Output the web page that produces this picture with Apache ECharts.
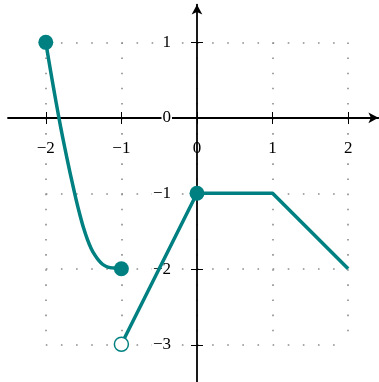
<!DOCTYPE html>
<html><head><meta charset="utf-8">
<script src="https://cdn.jsdelivr.net/npm/echarts@6/dist/echarts.min.js"></script>
<style>html,body{margin:0;padding:0;background:#fff}#c{width:379px;height:382px}</style>
</head><body><div id="c"></div>
<script>
// Data
const curveX = [-2, -1.95, -1.9, -1.85, -1.8, -1.75, -1.7, -1.65, -1.6, -1.55, -1.5,
                -1.45, -1.4, -1.35, -1.3, -1.25, -1.2, -1.15, -1.1, -1.05, -1];
const curveY = [1, 0.70, 0.41, 0.13, -0.14, -0.39, -0.63, -0.86, -1.08, -1.28, -1.46,
                -1.61, -1.73, -1.82, -1.89, -1.94, -1.97, -1.985, -1.99, -2, -2];
const segX = [-1, 0, 1, 2];
const segY = [-3, -1, -1, -2];
const closedX = [-2, -1, 0];
const closedY = [1, -2, -1];
const openX = [-1];
const openY = [-3];
const xTicks = [-2, -1, 0, 1, 2];
const yTicks = [-3, -2, -1, 0, 1];

const zip = (a, b) => a.map((v, i) => [v, b[i]]);
const TEAL = '#008080';
const FONT = 'Liberation Serif';
const fmt = v => v < 0 ? '\u2212' + (-v) : String(v);

const U = 75.6;           // pixels per unit
const X0 = 197, Y0 = 118; // origin in pixels
const xMin = xTicks[0], xMax = xTicks[xTicks.length - 1];
const yMin = yTicks[0], yMax = yTicks[yTicks.length - 1];

const box = { left: X0 + xMin * U, top: Y0 - yMax * U, width: (xMax - xMin) * U, height: (yMax - yMin) * U };
const xStrip = { left: box.left, top: box.top, width: box.width, height: Y0 - box.top };
const yStrip = { left: X0, top: box.top, width: box.left + box.width - X0, height: box.height };

const dotStyle = { color: '#8c8c8c', width: 1.6, type: [1.6, U * 0.2 - 1.6], cap: 'butt' };
const hidden = g => ({ gridIndex: g, type: 'value', show: false, min: 0, max: 1 });
const tickStyle = { color: '#000', width: 1 };
const labelStyle = (margin) => ({ show: true, margin, formatter: fmt, fontFamily: FONT, fontSize: 17, color: '#000',
  backgroundColor: '#fff', padding: [0, 1], showMinLabel: true, showMaxLabel: true });

const chart = echarts.init(document.getElementById('c'), null, { renderer: 'canvas' });
chart.setOption({
  animation: false,
  backgroundColor: '#fff',
  grid: [
    { left: 8, top: 4.6, width: 370.4, height: 378 },
    Object.assign({}, box),
    Object.assign({}, xStrip),
    Object.assign({}, xStrip),
    Object.assign({}, yStrip),
    Object.assign({}, yStrip)
  ],
  xAxis: [
    { gridIndex: 0, type: 'value', min: -2.5, max: 2.4, z: 1,
      axisLine: { show: true, onZero: true, symbol: ['none', 'arrow'], symbolSize: [8, 10],
        lineStyle: { color: '#000', width: 1.8 } },
      axisTick: { show: false }, axisLabel: { show: false }, splitLine: { show: false } },
    { gridIndex: 1, type: 'value', min: xMin, max: xMax, interval: 1, z: 0,
      axisLine: { show: false }, axisTick: { show: false }, axisLabel: { show: false },
      splitLine: { show: true, lineStyle: dotStyle } },
    { gridIndex: 2, type: 'value', position: 'bottom', min: xMin, max: xMax, interval: 1, z: 2,
      axisLine: { show: false, onZero: false },
      axisTick: { show: true, inside: false, length: 6, lineStyle: tickStyle },
      axisLabel: labelStyle(22), splitLine: { show: false } },
    { gridIndex: 3, type: 'value', position: 'bottom', min: xMin, max: xMax, interval: 1, z: 2,
      axisLine: { show: false, onZero: false },
      axisTick: { show: true, inside: true, length: 6, lineStyle: tickStyle },
      axisLabel: { show: false }, splitLine: { show: false } },
    hidden(4),
    hidden(5)
  ],
  yAxis: [
    { gridIndex: 0, type: 'value', min: -3.5, max: 1.5, z: 5,
      axisLine: { show: true, onZero: true, symbol: ['none', 'arrow'], symbolSize: [8, 10],
        lineStyle: { color: '#000', width: 1.8 } },
      axisTick: { show: false }, axisLabel: { show: false }, splitLine: { show: false } },
    { gridIndex: 1, type: 'value', min: yMin, max: yMax, interval: 1, z: 0,
      axisLine: { show: false }, axisTick: { show: false }, axisLabel: { show: false },
      splitLine: { show: true, lineStyle: dotStyle } },
    hidden(2),
    hidden(3),
    { gridIndex: 4, type: 'value', position: 'left', min: yMin, max: yMax, interval: 1, z: 3,
      axisLine: { show: false, onZero: false },
      axisTick: { show: true, inside: false, length: 6, lineStyle: tickStyle },
      axisLabel: labelStyle(25), splitLine: { show: false } },
    { gridIndex: 5, type: 'value', position: 'left', min: yMin, max: yMax, interval: 1, z: 3,
      axisLine: { show: false, onZero: false },
      axisTick: { show: true, inside: true, length: 6, lineStyle: tickStyle },
      axisLabel: { show: false }, splitLine: { show: false } }
  ],
  series: [
    { type: 'line', xAxisIndex: 0, yAxisIndex: 0, z: 10, data: zip(curveX, curveY),
      smooth: 0.3, showSymbol: false, symbol: 'none',
      lineStyle: { color: TEAL, width: 3.5, join: 'round' } },
    { type: 'line', xAxisIndex: 0, yAxisIndex: 0, z: 10, data: zip(segX, segY),
      showSymbol: false, symbol: 'none', lineStyle: { color: TEAL, width: 3.5, join: 'round' } },
    { type: 'scatter', xAxisIndex: 0, yAxisIndex: 0, z: 11, data: zip(closedX, closedY),
      symbol: 'circle', symbolSize: 15, itemStyle: { color: TEAL, opacity: 1 } },
    { type: 'scatter', xAxisIndex: 0, yAxisIndex: 0, z: 11, data: zip(openX, openY),
      symbol: 'circle', symbolSize: 14, itemStyle: { color: '#fff', borderColor: TEAL, borderWidth: 1.5, opacity: 1 } }
  ]
});
</script>
</body></html>
